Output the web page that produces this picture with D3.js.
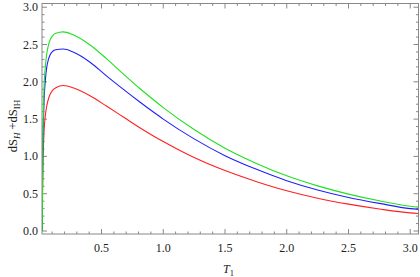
<!DOCTYPE html>
<html>
<head>
<meta charset="utf-8">
<script src="https://cdn.jsdelivr.net/npm/d3@7"></script>
<style>
  body { margin: 0; background: #fff; }
  svg text { font-family: "Liberation Serif", "DejaVu Serif", serif; fill: #222; }
</style>
</head>
<body>
<svg id="chart" width="420" height="277"></svg>
<script>
// T1 sample points
const tValues = [0.02, 0.022, 0.025, 0.03, 0.035, 0.045, 0.057, 0.07, 0.083, 0.105, 0.13, 0.19, 0.27,
                 0.41, 0.54, 0.68, 0.81, 0.92, 1.0, 1.25, 1.5, 1.75, 2.0, 2.25, 2.5, 2.75, 3.0, 3.067];

const greenValues = [0, 0.6, 1.2, 1.65, 1.95, 2.2, 2.38, 2.49, 2.56, 2.62, 2.65, 2.67, 2.63,
                     2.49, 2.31, 2.10, 1.91, 1.76, 1.655, 1.36, 1.11, 0.91, 0.74, 0.605, 0.495, 0.405, 0.333, 0.32];
const blueValues  = [0, 0.55, 1.1, 1.5, 1.76, 2.02, 2.2, 2.3, 2.36, 2.41, 2.43, 2.44, 2.40,
                     2.26, 2.08, 1.895, 1.73, 1.595, 1.50, 1.235, 1.01, 0.83, 0.675, 0.55, 0.45, 0.37, 0.30, 0.29];
const redValues   = [0, 0.4, 0.85, 1.15, 1.35, 1.55, 1.68, 1.77, 1.83, 1.89, 1.92, 1.95, 1.92,
                     1.81, 1.675, 1.525, 1.385, 1.275, 1.20, 0.985, 0.81, 0.665, 0.54, 0.44, 0.36, 0.295, 0.243, 0.235];

const xTickLabels = [0.5, 1.0, 1.5, 2.0, 2.5, 3.0];
const yTickLabels = [0.0, 0.5, 1.0, 1.5, 2.0, 2.5, 3.0];

const svg = d3.select('#chart');
const pLeft = 42, pRight = 418.5, pTop = 3.5, pBottom = 234;

const x = d3.scaleLinear().domain([0.018, 3.067]).range([pLeft, pRight]);
const y = d3.scaleLinear().domain([-0.04, 3.05]).range([pBottom, pTop]);

const frameColor = '#888';

// frame
svg.append('rect')
    .attr('x', pLeft).attr('y', pTop)
    .attr('width', pRight - pLeft).attr('height', pBottom - pTop)
    .attr('fill', 'none').attr('stroke', frameColor).attr('stroke-width', 1);

const minorX = d3.range(1, 31).map(i => i / 10);
const minorY = d3.range(0, 31).map(i => i / 10);
const isMajor = v => Math.abs(v * 2 - Math.round(v * 2)) < 1e-6;

const ticks = svg.append('g').attr('stroke', frameColor).attr('stroke-width', 1);
minorX.forEach(v => {
    const len = isMajor(v) ? 5 : 2.5;
    const px = x(v);
    ticks.append('line').attr('x1', px).attr('x2', px).attr('y1', pBottom).attr('y2', pBottom - len);
    ticks.append('line').attr('x1', px).attr('x2', px).attr('y1', pTop).attr('y2', pTop + len);
});
minorY.forEach(v => {
    const len = isMajor(v) ? 5 : 2.5;
    const py = y(v);
    ticks.append('line').attr('x1', pLeft).attr('x2', pLeft + len).attr('y1', py).attr('y2', py);
    ticks.append('line').attr('x1', pRight).attr('x2', pRight - len).attr('y1', py).attr('y2', py);
});

// tick labels
svg.append('g').selectAll('text')
    .data(xTickLabels)
    .enter().append('text')
    .attr('x', d => x(d))
    .attr('y', 252)
    .attr('text-anchor', 'middle')
    .attr('font-size', 12)
    .text(d => d.toFixed(1));

svg.append('g').selectAll('text')
    .data(yTickLabels)
    .enter().append('text')
    .attr('x', 38)
    .attr('y', d => y(d) + 4)
    .attr('text-anchor', 'end')
    .attr('font-size', 12)
    .text(d => d.toFixed(1));

// curves
const series = [
    { values: redValues, color: '#ff2020' },
    { values: blueValues, color: '#2020ff' },
    { values: greenValues, color: '#20e020' }
];

const line = d3.line()
    .x((d, i) => x(tValues[i]))
    .y(d => y(d))
    .curve(d3.curveMonotoneX);

svg.append('clipPath').attr('id', 'clip')
    .append('rect').attr('x', pLeft).attr('y', pTop).attr('width', pRight - pLeft).attr('height', pBottom - pTop);

svg.append('g').attr('clip-path', 'url(#clip)')
    .selectAll('path')
    .data(series)
    .enter().append('path')
    .attr('d', d => line(d.values))
    .attr('fill', 'none')
    .attr('stroke', d => d.color)
    .attr('stroke-width', 1.1);

// axis titles
const xt = svg.append('text')
    .attr('x', 223)
    .attr('y', 273)
    .attr('font-size', 12);
xt.append('tspan').attr('font-style', 'italic').text('T');
xt.append('tspan').attr('font-size', 8.5).attr('dy', 3).text('1');

const yt = svg.append('text')
    .attr('transform', 'translate(17,126) rotate(-90)')
    .attr('text-anchor', 'middle')
    .attr('font-size', 12.5);
yt.append('tspan').text('dS');
yt.append('tspan').attr('font-size', 9).attr('font-style', 'italic').attr('dy', 3).text('H');
yt.append('tspan').attr('dy', -3).text(' +dS');
yt.append('tspan').attr('font-size', 9).attr('dy', 3).text('IH');
</script>
</body>
</html>
